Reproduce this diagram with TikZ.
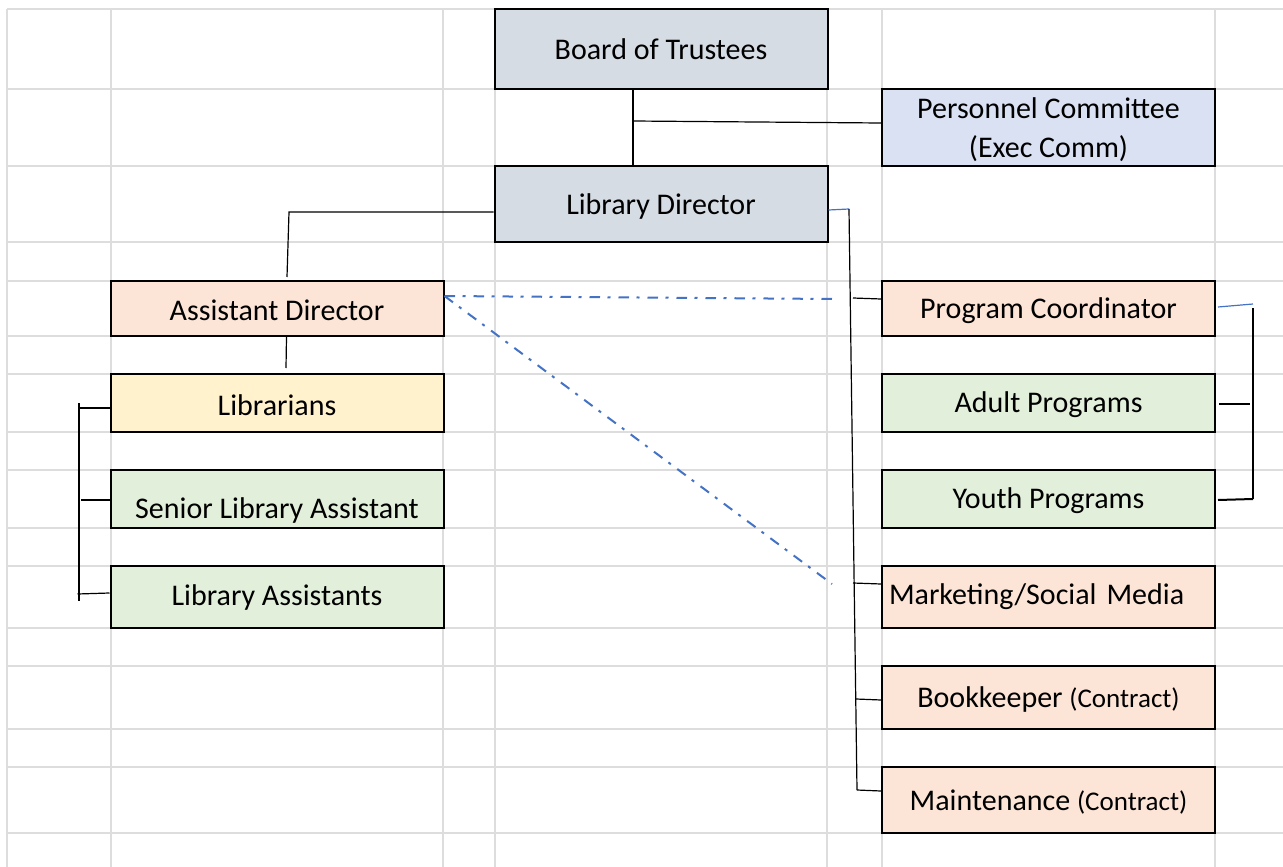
\documentclass[tikz,border=0pt]{standalone}
\usepackage{fontspec}
\setmainfont{Carlito}
\usetikzlibrary{calc}
\definecolor{gridc}{HTML}{DDDDDD}
\definecolor{slate}{HTML}{D6DCE4}
\definecolor{lav}{HTML}{DAE1F3}
\definecolor{peach}{HTML}{FCE4D6}
\definecolor{cream}{HTML}{FFF2CC}
\definecolor{mint}{HTML}{E2EFDA}
\definecolor{lblue}{HTML}{4472C4}
\begin{document}
\begin{tikzpicture}[x=1pt,y=-1pt,
  box/.style={draw=black, line width=2pt, inner sep=0pt, minimum width=333pt, align=center,
              font=\fontsize{30}{39}\selectfont, text=black},
  conn/.style={draw=black, line width=1.2pt},
  conntwo/.style={draw=black, line width=2pt},
  bluec/.style={draw=lblue, line width=1.2pt},
  dd/.style={draw=lblue, line width=2pt, dash pattern=on 10.5pt off 7.5pt on 3pt off 8pt},
  gridline/.style={draw=gridc, line width=1.5pt}]
\useasboundingbox (0,0) rectangle (1283,867);
\fill[white] (0,0) rectangle (1283,867);
% spreadsheet grid
\foreach \yy in {9,89,166,242,281,336,374,432,470,528,566,628,666,729,767,833}
  \draw[gridline] (7,\yy) -- (1283,\yy);
\foreach \xx in {7,111,443,495,827,882,1215}
  \draw[gridline] (\xx,9) -- (\xx,867);

% boxes
\node[box, fill=slate, minimum height=80pt] (bot) at (661,49) {Board of Trustees};
\node[box, fill=lav, minimum height=77pt] (pc) at (1048.5,127.5) {\rule{0pt}{26pt}Personnel Committee\\(Exec Comm)};
\node[box, fill=slate, minimum height=76pt] (ld) at (661,204) {\rule{0pt}{25pt}Library Director};
\node[box, fill=peach, minimum height=55pt] (ad) at (277,308.5) {\rule{0pt}{25pt}Assistant Director};
\node[box, fill=cream, minimum height=58pt] (lib) at (277,403) {\rule{0pt}{25pt}Librarians};
\node[box, fill=mint, minimum height=58pt,
      label={[font=\fontsize{30}{35}\selectfont, yshift=-11pt]center:Senior Library Assistant}] (sla) at (277,499) {};
\node[box, fill=mint, minimum height=62pt] (la) at (277,597) {Library Assistants};
\node[box, fill=peach, minimum height=55pt] (prc) at (1048.5,308.5) {\rule{0pt}{25pt}Program Coordinator};
\node[box, fill=mint, minimum height=58pt] (adp) at (1048.5,403) {\rule{0pt}{25pt}Adult Programs};
\node[box, fill=mint, minimum height=58pt] (yp) at (1048.5,499) {\rule{0pt}{25pt}Youth Programs};
\node[box, fill=peach, minimum height=62pt, text width=319pt, align=left] (mkt) at (1048.5,597) {Marketing/Social Media};
\node[box, fill=peach, minimum height=63pt] (bk) at (1048.5,697.5) {\rule{0pt}{25pt}Bookkeeper {\fontsize{27}{30}\selectfont (Contract)}};
\node[box, fill=peach, minimum height=66pt] (mt) at (1048.5,800) {\rule{0pt}{25pt}Maintenance {\fontsize{27}{30}\selectfont (Contract)}};

% Board -- Library Director, with Personnel Committee
\coordinate (j1) at (633,121);
\draw[conn] (bot.south -| j1) -- (ld.north -| j1);
\draw[conn] (j1) -- ($(pc.west)+(0,-4.5)$);

% Library Director -- Assistant Director
\coordinate (j2) at (289,212);
\draw[conn] (ld.west |- j2) -- (j2) -- ($(ad.north)+(10,-3)$);
% Assistant Director -- Librarians
\draw[conn] ($(ad.south)+(9.5,0)$) -- ($(lib.north)+(9,-5)$);

% left bracket
\coordinate (lb1) at (79,403);
\coordinate (lb2) at (79,601);
\draw[conntwo] (lb1) -- (lb2);
\draw[conntwo] ($(lib.west)+(0,5)$) -- ++(-32,0);
\draw[conntwo] ($(sla.west)+(2,1)$) -- ++(-31,0);
\draw[conn] ($(la.west)+(0,-4)$) -- ++(-32,1);

% Library Director -- right staff
\coordinate (j3) at (849,209);
\coordinate (j4) at (857,790);
\draw[bluec] ($(ld.east)+(0,6)$) -- (j3);
\draw[conn] (j3) -- (j4);
\draw[conn] ($(prc.west)+(0,-9.5)$) -- ++(-28,-1);
\draw[conn] ($(mkt.west)+(0,-13)$) -- ++(-28,-1);
\draw[conn] ($(bk.west)+(0,2.5)$) -- ++(-25,-1);
\draw[conn] ($(mt.west)+(0,-9)$) -- (j4);

% right bracket
\coordinate (r0) at (1253,304);
\coordinate (r1) at (1253,308);
\coordinate (r2) at (1253,499);
\draw[bluec] ($(prc.east)+(2,-1.5)$) -- (r0);
\draw[conntwo] (r1) -- (r2);
\draw[conntwo] ($(adp.east)+(3,1)$) -- ++(31,0);
\draw[conntwo] ($(yp.east)+(2,1)$) -- (r2);

% dash-dot links
\coordinate (d0) at ($(ad.north east)+(0,16)$);
\coordinate (d1) at (833,299);
\coordinate (d2) at (832,584);
\draw[dd] (d0) -- (d1);
\draw[dd] (d0) -- (d2);
\end{tikzpicture}
\end{document}
